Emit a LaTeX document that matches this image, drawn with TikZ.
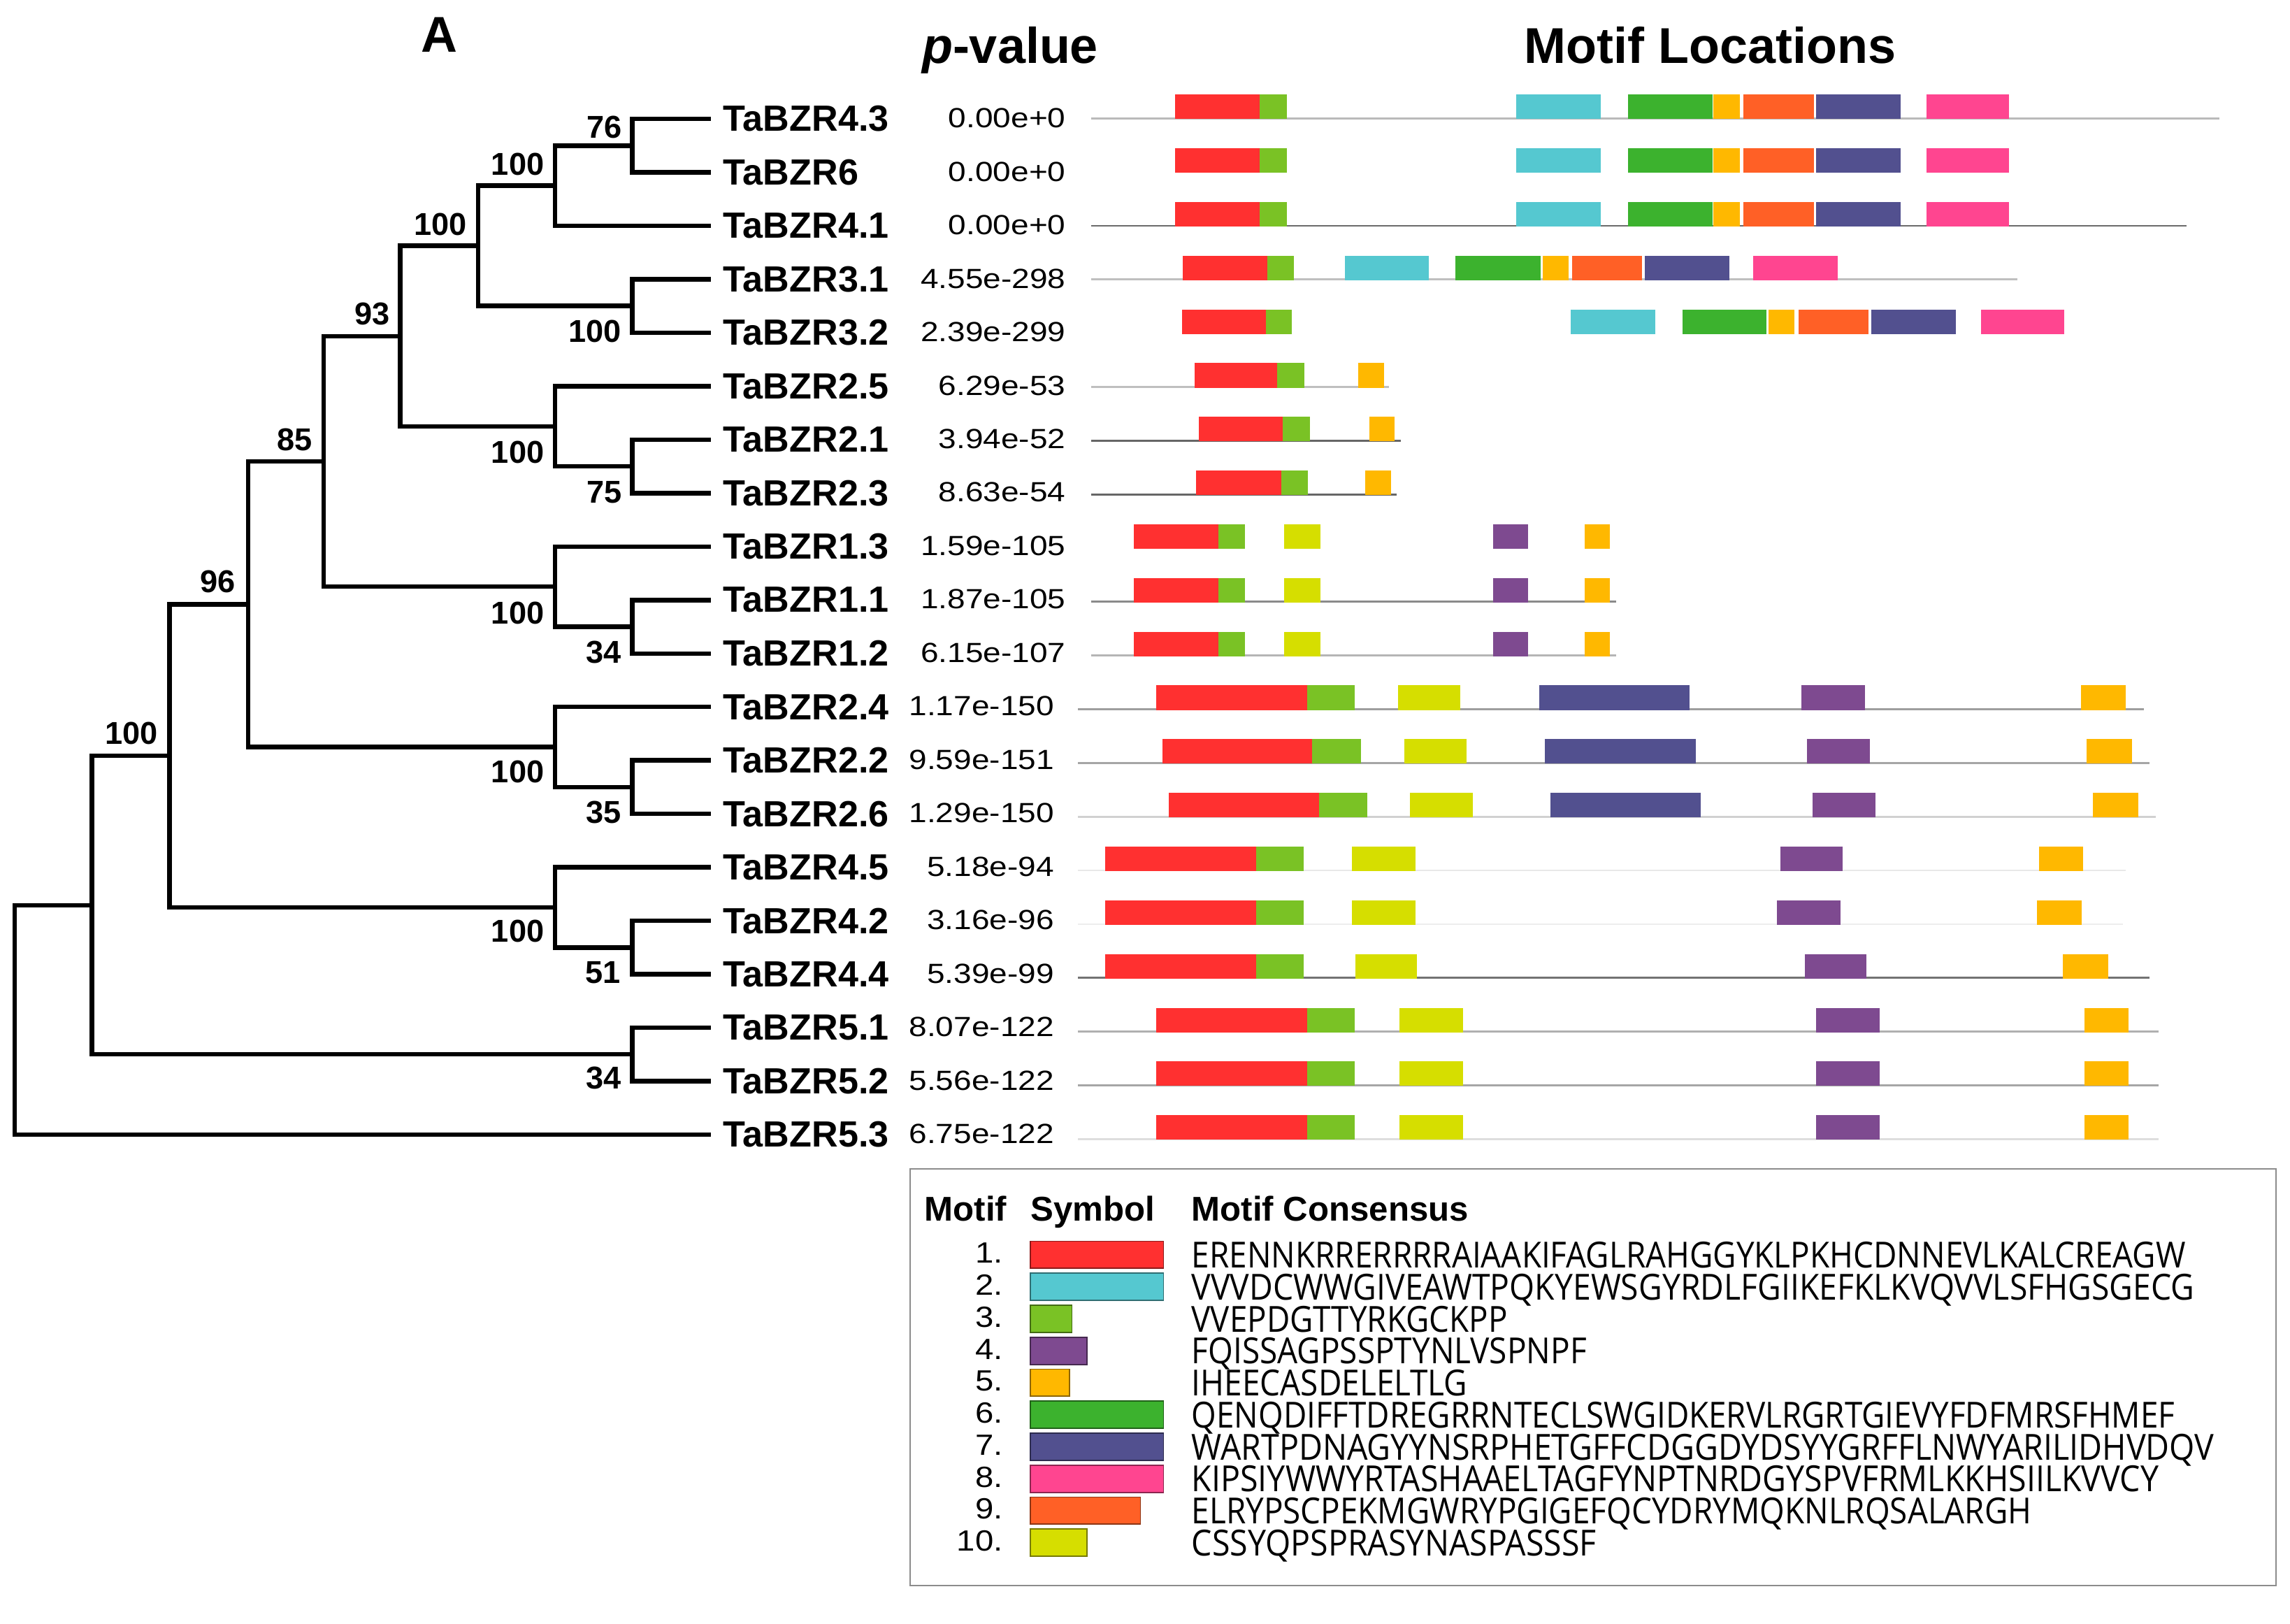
\documentclass[tikz,border=0pt]{standalone}
\usepackage{fontspec}
\setmainfont{Liberation Sans}
\newfontfamily\consfont{Open Sans}
\usepackage{graphicx}
\definecolor{mone}{HTML}{FF3030}
\definecolor{mtwo}{HTML}{55C8D0}
\definecolor{mthree}{HTML}{7AC225}
\definecolor{mfour}{HTML}{7E4A90}
\definecolor{mfive}{HTML}{FFB800}
\definecolor{msix}{HTML}{3CB22E}
\definecolor{mseven}{HTML}{52508F}
\definecolor{meight}{HTML}{FF4590}
\definecolor{mnine}{HTML}{FF6026}
\definecolor{mten}{HTML}{D6DE00}
\newcommand\setrow[1]{\pgfmathsetmacro\ry{81+36.78*#1}}
\newcommand\mbx[3]{\fill[#1] (#2,\ry-16.3) rectangle (#3,\ry+0.5);}
\newcommand\mln[3]{\draw[line width=0.75pt,color=#1] (#2,\ry) -- (#3,\ry);}
\newcommand\legrow[5]{% #1 k, #2 color, #3 box right x, #4 text, #5 width
  \pgfmathsetmacro\lb{864.8+21.9*(#1-1)}
  \filldraw[fill=#2,draw=#2!55!black,line width=0.5pt] (705.3,\lb-15) rectangle (#3,\lb+3.6);
  \node[legnum] (num#1) at (687,\lb) {\scalebox{1.13}[1]{#1.}};
  \node[legtxt] (cons#1) at (815.6,\lb+3.2) {\resizebox{#5}{\height}{#4}};
}
\begin{document}
\begin{tikzpicture}[x=0.02cm,y=-0.02cm,
  tree/.style={line width=1.75pt,line join=miter},
  tip/.style={anchor=west,inner sep=0,font=\fontsize{14.2}{16}\selectfont\bfseries},
  boot/.style={inner sep=0,font=\fontsize{12.3}{14}\selectfont\bfseries},
  pval/.style={anchor=east,inner sep=0,font=\fontsize{10.8}{12}\selectfont},
  legnum/.style={anchor=base east,inner sep=0,font=\fontsize{11.4}{13}\selectfont},
  legtxt/.style={anchor=base west,inner sep=0,text depth=0pt,font=\consfont\fontsize{14}{16}\selectfont},
  leghead/.style={anchor=base west,inner sep=0,font=\fontsize{13.4}{15}\selectfont\bfseries}]
\useasboundingbox (0,0) rectangle (1568,1111.4);
\fill[white] (0,0) rectangle (1568,1111.4);

% headings
\node[anchor=base,inner sep=0,font=\fontsize{19.6}{23}\selectfont\bfseries] (hA) at (301,35.6) {A};
\node[anchor=base west,inner sep=0,font=\fontsize{19.6}{23}\selectfont\bfseries] (hp) at (631,43.4) {\textit{p}-value};
\node[anchor=base west,inner sep=0,font=\fontsize{19.6}{23}\selectfont\bfseries] (hm) at (1043.4,43.5) {Motif Locations};

% tips, labels, p-values
\foreach \n/\p [count=\i from 0] in {TaBZR4.3/0.00e+0,TaBZR6/0.00e+0,TaBZR4.1/0.00e+0,TaBZR3.1/4.55e-298,TaBZR3.2/2.39e-299,TaBZR2.5/6.29e-53,TaBZR2.1/3.94e-52,TaBZR2.3/8.63e-54,TaBZR1.3/1.59e-105,TaBZR1.1/1.87e-105,TaBZR1.2/6.15e-107,TaBZR2.4/1.17e-150,TaBZR2.2/9.59e-151,TaBZR2.6/1.29e-150,TaBZR4.5/5.18e-94,TaBZR4.2/3.16e-96,TaBZR4.4/5.39e-99,TaBZR5.1/8.07e-122,TaBZR5.2/5.56e-122,TaBZR5.3/6.75e-122}{
  \pgfmathsetmacro\ty{81.4+36.6*\i}
  \pgfmathsetmacro\px{\i<11 ? 730 : 722}
  \coordinate (t\i) at (487,\ty);
  \node[tip] (lab\i) at (495,\ty) {\n};
  \node[pval] (pv\i) at (\px,\ty-0.5) {\scalebox{1.16}[1]{\p}};
}

% internal nodes
\coordinate (n436) at (433,99.7);
\coordinate (n41) at (380,127.15);
\coordinate (n3) at (433,209.5);
\coordinate (nA) at (327.5,168.3);
\coordinate (n2123) at (433,319.3);
\coordinate (n25) at (380,291.85);
\coordinate (nB) at (274,230.1);
\coordinate (n1112) at (433,429.1);
\coordinate (n13) at (380,401.65);
\coordinate (nC) at (221.5,315.9);
\coordinate (n2226) at (433,538.9);
\coordinate (n24) at (380,511.45);
\coordinate (nD) at (170,413.7);
\coordinate (n4244) at (433,648.7);
\coordinate (n45) at (380,621.25);
\coordinate (nE) at (116,517.5);
\coordinate (n5) at (433,721.9);
\coordinate (nF) at (63,619.7);
\coordinate (root) at (10,698.25);

\draw[tree] (n436) |- (t0);  \draw[tree] (n436) |- (t1);
\draw[tree] (n41) |- (n436); \draw[tree] (n41) |- (t2);
\draw[tree] (n3) |- (t3);    \draw[tree] (n3) |- (t4);
\draw[tree] (nA) |- (n41);   \draw[tree] (nA) |- (n3);
\draw[tree] (n2123) |- (t6); \draw[tree] (n2123) |- (t7);
\draw[tree] (n25) |- (t5);   \draw[tree] (n25) |- (n2123);
\draw[tree] (nB) |- (nA);    \draw[tree] (nB) |- (n25);
\draw[tree] (n1112) |- (t9); \draw[tree] (n1112) |- (t10);
\draw[tree] (n13) |- (t8);   \draw[tree] (n13) |- (n1112);
\draw[tree] (nC) |- (nB);    \draw[tree] (nC) |- (n13);
\draw[tree] (n2226) |- (t12);\draw[tree] (n2226) |- (t13);
\draw[tree] (n24) |- (t11);  \draw[tree] (n24) |- (n2226);
\draw[tree] (nD) |- (nC);    \draw[tree] (nD) |- (n24);
\draw[tree] (n4244) |- (t15);\draw[tree] (n4244) |- (t16);
\draw[tree] (n45) |- (t14);  \draw[tree] (n45) |- (n4244);
\draw[tree] (nE) |- (nD);    \draw[tree] (nE) |- (n45);
\draw[tree] (n5) |- (t17);   \draw[tree] (n5) |- (t18);
\draw[tree] (nF) |- (nE);    \draw[tree] (nF) |- (n5);
\draw[tree] (root) |- (nF);  \draw[tree] (root) |- (t19);

% bootstrap values
\node[boot] (b1) at (414,87) {76};
\node[boot] (b2) at (354.5,112.3) {100};
\node[boot] (b3) at (301.5,153.4) {100};
\node[boot] (b4) at (407.5,227) {100};
\node[boot] (b5) at (254.8,214.9) {93};
\node[boot] (b6) at (354.5,309.6) {100};
\node[boot] (b7) at (414,337) {75};
\node[boot] (b8) at (201.8,300.9) {85};
\node[boot] (b9) at (149,398) {96};
\node[boot] (b10) at (354.5,419.5) {100};
\node[boot] (b11) at (413.5,446.4) {34};
\node[boot] (b12) at (90,501.9) {100};
\node[boot] (b13) at (354.5,528.5) {100};
\node[boot] (b14) at (413.5,556) {35};
\node[boot] (b15) at (354.5,637.4) {100};
\node[boot] (b16) at (413,666) {51};
\node[boot] (b17) at (413.5,738.2) {34};

% motif rows
\setrow{0}\mln{black!27}{747}{1519.4}
\mbx{mone}{804.5}{862.4}\mbx{mthree}{862.4}{881.1}\mbx{mtwo}{1038}{1095.9}\mbx{msix}{1114.6}{1172.5}\mbx{mfive}{1173.1}{1191.2}\mbx{mnine}{1193.6}{1241.9}\mbx{mseven}{1243.7}{1301.6}\mbx{meight}{1319.1}{1375.8}
\setrow{1}
\mbx{mone}{804.5}{862.4}\mbx{mthree}{862.4}{881.1}\mbx{mtwo}{1038}{1095.9}\mbx{msix}{1114.6}{1172.5}\mbx{mfive}{1173.1}{1191.2}\mbx{mnine}{1193.6}{1241.9}\mbx{mseven}{1243.7}{1301.6}\mbx{meight}{1319.1}{1375.8}
\setrow{2}\mln{black!58}{747}{1497}
\mbx{mone}{804.5}{862.4}\mbx{mthree}{862.4}{881.1}\mbx{mtwo}{1038}{1095.9}\mbx{msix}{1114.6}{1172.5}\mbx{mfive}{1173.1}{1191.2}\mbx{mnine}{1193.6}{1241.9}\mbx{mseven}{1243.7}{1301.6}\mbx{meight}{1319.1}{1375.8}
\setrow{3}\mln{black!25}{747}{1381.2}
\mbx{mone}{809.9}{867.9}\mbx{mthree}{867.9}{886}\mbx{mtwo}{920.9}{978.2}\mbx{msix}{996.3}{1054.9}\mbx{mfive}{1056.1}{1074.2}\mbx{mnine}{1076.6}{1124.2}\mbx{mseven}{1126}{1184}\mbx{meight}{1200.3}{1258.2}
\setrow{4}
\mbx{mone}{809.3}{866.6}\mbx{mthree}{866.6}{884.7}\mbx{mtwo}{1075.4}{1133.3}\mbx{msix}{1152}{1209.3}\mbx{mfive}{1211.1}{1228.6}\mbx{mnine}{1231.6}{1279.3}\mbx{mseven}{1281.1}{1339}\mbx{meight}{1356.5}{1413.2}
\setrow{5}\mln{black!25}{747}{951.1}
\mbx{mone}{817.8}{874.5}\mbx{mthree}{874.5}{893.2}\mbx{mfive}{930}{947.5}
\setrow{6}\mln{black!60}{747}{959}
\mbx{mone}{820.8}{878.1}\mbx{mthree}{878.1}{896.8}\mbx{mfive}{937.8}{954.7}
\setrow{7}\mln{black!60}{747}{956.5}
\mbx{mone}{819}{877.5}\mbx{mthree}{877.5}{895.6}\mbx{mfive}{934.8}{952.3}
\setrow{8}
\mbx{mone}{776.1}{834.1}\mbx{mthree}{834.1}{852.2}\mbx{mten}{879.3}{904}\mbx{mfour}{1022.3}{1046.4}\mbx{mfive}{1085}{1102.5}
\setrow{9}\mln{black!46}{747}{1106.8}
\mbx{mone}{776.1}{834.1}\mbx{mthree}{834.1}{852.2}\mbx{mten}{879.3}{904}\mbx{mfour}{1022.3}{1046.4}\mbx{mfive}{1085}{1102.5}
\setrow{10}\mln{black!29}{747}{1106.8}
\mbx{mone}{776.1}{834.1}\mbx{mthree}{834.1}{852.2}\mbx{mten}{879.3}{904}\mbx{mfour}{1022.3}{1046.4}\mbx{mfive}{1085}{1102.5}
\setrow{11}\mln{black!38}{738.1}{1468.1}
\mbx{mone}{791.8}{895}\mbx{mthree}{895}{927.6}\mbx{mten}{957.1}{1000}\mbx{mseven}{1053.7}{1156.8}\mbx{mfour}{1233.5}{1276.9}\mbx{mfive}{1424.7}{1455.5}
\setrow{12}\mln{black!35}{738.1}{1471.8}
\mbx{mone}{796}{898.6}\mbx{mthree}{898.6}{931.8}\mbx{mten}{961.4}{1004.2}\mbx{mseven}{1057.9}{1161.1}\mbx{mfour}{1237.1}{1280.5}\mbx{mfive}{1428.9}{1459.7}
\setrow{13}\mln{black!18}{738.1}{1476}
\mbx{mone}{800.3}{903.4}\mbx{mthree}{903.4}{936}\mbx{mten}{965.6}{1008.4}\mbx{mseven}{1061.5}{1164.7}\mbx{mfour}{1241.3}{1284.1}\mbx{mfive}{1433.1}{1463.9}
\setrow{14}\mln{black!9}{738.1}{1455.5}
\mbx{mone}{756.8}{860}\mbx{mthree}{860}{892.6}\mbx{mten}{925.8}{969.2}\mbx{mfour}{1219}{1261.8}\mbx{mfive}{1396.3}{1426.5}
\setrow{15}\mln{black!7}{738.1}{1453.7}
\mbx{mone}{756.8}{860}\mbx{mthree}{860}{892.6}\mbx{mten}{925.8}{969.2}\mbx{mfour}{1216.6}{1260}\mbx{mfive}{1394.5}{1425.3}
\setrow{16}\mln{black!55}{738.1}{1471.8}
\mbx{mone}{756.8}{860}\mbx{mthree}{860}{892.6}\mbx{mten}{928.2}{970.4}\mbx{mfour}{1235.9}{1278.1}\mbx{mfive}{1412.6}{1443.4}
\setrow{17}\mln{black!31}{738.1}{1477.8}
\mbx{mone}{791.8}{895}\mbx{mthree}{895}{927.6}\mbx{mten}{958.3}{1001.8}\mbx{mfour}{1243.7}{1287.1}\mbx{mfive}{1427.1}{1457.3}
\setrow{18}\mln{black!35}{738.1}{1477.8}
\mbx{mone}{791.8}{895}\mbx{mthree}{895}{927.6}\mbx{mten}{958.3}{1001.8}\mbx{mfour}{1243.7}{1287.1}\mbx{mfive}{1427.1}{1457.3}
\setrow{19}\mln{black!13}{738.1}{1477.8}
\mbx{mone}{791.8}{895}\mbx{mthree}{895}{927.6}\mbx{mten}{958.3}{1001.8}\mbx{mfour}{1243.7}{1287.1}\mbx{mfive}{1427.1}{1457.3}

% legend
\draw[black!45,line width=0.6pt] (623,800.3) rectangle (1558.3,1085.5);
\node[leghead] (lh1) at (632.8,836.1) {Motif};
\node[leghead] (lh2) at (705.3,836.1) {Symbol};
\node[leghead] (lh3) at (815.6,836.1) {Motif Consensus};
\legrow{1}{mone}{796.7}{ERENNKRRERRRRAIAAKIFAGLRAHGGYKLPKHCDNNEVLKALCREAGW}{13.612cm}
\legrow{2}{mtwo}{796.7}{VVVDCWWGIVEAWTPQKYEWSGYRDLFGIIKEFKLKVQVVLSFHGSGECG}{13.734cm}
\legrow{3}{mthree}{734}{VVEPDGTTYRKGCKPP}{4.326cm}
\legrow{4}{mfour}{744.3}{FQISSAGPSSPTYNLVSPNPF}{5.41cm}
\legrow{5}{mfive}{732.1}{IHEECASDELELTLG}{3.778cm}
\legrow{6}{msix}{796.7}{QENQDIFFTDREGRRNTECLSWGIDKERVLRGRTGIEVYFDFMRSFHMEF}{13.466cm}
\legrow{7}{mseven}{796.7}{WARTPDNAGYYNSRPHETGFFCDGGDYDSYYGRFFLNWYARILIDHVDQV}{14.002cm}
\legrow{8}{meight}{796.7}{KIPSIYWWYRTASHAAELTAGFYNPTNRDGYSPVFRMLKKHSIILKVVCY}{13.246cm}
\legrow{9}{mnine}{780.9}{ELRYPSCPEKMGWRYPGIGEFQCYDRYMQKNLRQSALARGH}{11.504cm}
\legrow{10}{mten}{744.3}{CSSYQPSPRASYNASPASSSF}{5.544cm}
\end{tikzpicture}
\end{document}
